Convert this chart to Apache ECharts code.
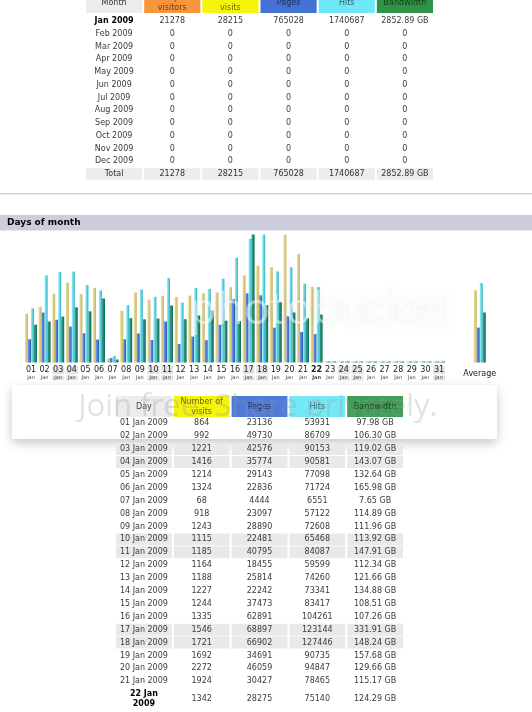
<!DOCTYPE html>
<html>
<head>
<meta charset="utf-8">
<title>Days of month</title>
<script src="https://cdn.jsdelivr.net/npm/echarts@6/dist/echarts.min.js"></script>
<style>
  html, body { margin: 0; padding: 0; background: #fff; }
  #main { width: 532px; height: 712px; }
</style>
</head>
<body>
<div id="main"></div>
<script>
// --- monthly history ---
var months = ['Jan 2009', 'Feb 2009', 'Mar 2009', 'Apr 2009', 'May 2009', 'Jun 2009',
              'Jul 2009', 'Aug 2009', 'Sep 2009', 'Oct 2009', 'Nov 2009', 'Dec 2009'];
var monthUnique    = [21278, 0, 0, 0, 0, 0, 0, 0, 0, 0, 0, 0];
var monthVisits    = [28215, 0, 0, 0, 0, 0, 0, 0, 0, 0, 0, 0];
var monthPages     = [765028, 0, 0, 0, 0, 0, 0, 0, 0, 0, 0, 0];
var monthHits      = [1740687, 0, 0, 0, 0, 0, 0, 0, 0, 0, 0, 0];
var monthBandwidth = [2852.89, 0, 0, 0, 0, 0, 0, 0, 0, 0, 0, 0];
var monthTotals    = [21278, 28215, 765028, 1740687, 2852.89];

// --- days of month ---
var dayNumbers = ['01','02','03','04','05','06','07','08','09','10','11','12','13','14','15','16',
                  '17','18','19','20','21','22','23','24','25','26','27','28','29','30','31'];
var dayVisits = [864, 992, 1221, 1416, 1214, 1324, 68, 918, 1243, 1115, 1185, 1164, 1188, 1227, 1244, 1335,
                 1546, 1721, 1692, 2272, 1924, 1342, 0, 0, 0, 0, 0, 0, 0, 0, 0];
var dayPages = [23136, 49730, 42576, 35774, 29143, 22836, 4444, 23097, 28890, 22481, 40795, 18455, 25814, 22242, 37473, 62891,
                68897, 66902, 34691, 46059, 30427, 28275, 0, 0, 0, 0, 0, 0, 0, 0, 0];
var dayHits = [53931, 86709, 90153, 90581, 77098, 71724, 6551, 57122, 72608, 65468, 84087, 59599, 74260, 73341, 83417, 104261,
               123144, 127446, 90735, 94847, 78465, 75140, 0, 0, 0, 0, 0, 0, 0, 0, 0];
var dayBandwidth = [97.98, 106.30, 119.02, 143.07, 132.64, 165.98, 7.65, 114.89, 111.96, 113.92, 147.91, 112.34, 121.66, 134.88, 108.51, 107.26,
                    331.91, 148.24, 157.68, 129.66, 115.17, 124.29, 0, 0, 0, 0, 0, 0, 0, 0, 0];
// visits, pages, hits, bandwidth
var averages = [1282.5, 34774, 79122, 129.68];
var weekendDays = ['03', '04', '10', '11', '17', '18', '24', '25', '31'];
var today = '22';
var daysShown = 22;

var FONT = 'DejaVu Sans';

function gb(v) { return v ? v.toFixed(2) + ' GB' : '0'; }

// ---- table cells ----
var topHead = ['Month', 'Unique\nvisitors', 'Number of\nvisits', 'Pages', 'Hits', 'Bandwidth'];
var topHeadFill = ['#ececec', '#f7963c', '#f4f40c', '#4272d6', '#6ee8f6', '#2f9446'];
var topHeadCells = topHead.map(function (t, i) {
  return { col: i, row: 0, text: t, fill: topHeadFill[i], color: i ? 'rgba(0,0,0,0.6)' : '#333' };
});
var topRows = months.concat(['Total']);
var topCells = [];
months.forEach(function (m, r) {
  var vals = [m, monthUnique[r], monthVisits[r], monthPages[r], monthHits[r], gb(monthBandwidth[r])];
  vals.forEach(function (v, c) {
    topCells.push({ col: c, row: r, text: String(v), bold: r === 0 && c === 0, color: r === 0 && c === 0 ? '#000' : '#3a3a3a' });
  });
});
['Total', monthTotals[0], monthTotals[1], monthTotals[2], monthTotals[3], gb(monthTotals[4])].forEach(function (v, c) {
  topCells.push({ col: c, row: months.length, text: String(v), fill: '#ececec' });
});

var botHead = ['Day', 'Number of\nvisits', 'Pages', 'Hits', 'Bandwidth'];
var botHeadFill = ['#ececec', '#f4f40c', '#4f7bd8', '#74e9f6', '#3f9e56'];
var botHeadCells = botHead.map(function (t, i) {
  return { col: i, row: 0, text: t, fill: botHeadFill[i], color: i ? 'rgba(0,0,0,0.6)' : '#444' };
});
var botRows = dayNumbers.slice(0, daysShown);
var botCells = [];
botRows.forEach(function (d, r) {
  var isToday = d === today;
  var fill = weekendDays.indexOf(d) >= 0 ? '#e9e9e9' : null;
  var vals = [isToday ? d + ' Jan\n2009' : d + ' Jan 2009', dayVisits[r], dayPages[r], dayHits[r], gb(dayBandwidth[r])];
  vals.forEach(function (v, c) {
    botCells.push({ col: c, row: r, text: String(v), fill: fill, bold: isToday && c === 0,
                    color: isToday && c === 0 ? '#000' : '#3a3a3a', dy: isToday ? 0.4 : 0 });
  });
});

function cellRender(cells, padY, fontSize) {
  return function (params, api) {
    var cell = cells[params.dataIndex];
    var p = api.coord([api.value(0), api.value(1)]);
    var s = api.size([1, 1]);
    var ch = [];
    if (cell.fill) {
      ch.push({ type: 'rect', shape: { x: p[0] - s[0] / 2 + 1, y: p[1] - s[1] / 2 + padY, width: s[0] - 2, height: s[1] - 2 * padY },
                style: { fill: cell.fill } });
    }
    ch.push({ type: 'text', style: { x: p[0], y: p[1] + (cell.dy || 0) * s[1], text: cell.text, align: 'center', verticalAlign: 'middle',
              fontFamily: FONT, fontSize: fontSize, lineHeight: 10, fontWeight: cell.bold ? 'bold' : 'normal', fill: cell.color || '#333' } });
    return { type: 'group', children: ch };
  };
}

function tableSeries(cells, gi, padY, fontSize) {
  return { type: 'custom', xAxisIndex: gi.x, yAxisIndex: gi.y, silent: true,
           data: cells.map(function (c) { return [c.col, c.row]; }),
           renderItem: cellRender(cells, padY, fontSize) };
}

// ---- chart ----
var chartCats = dayNumbers.concat([' ', '  ', 'Average']);
function withAvg(arr, avg) { return arr.concat(['-', '-', avg]); }
function grad(a, b) {
  return { type: 'linear', x: 0, y: 0, x2: 1, y2: 0, colorStops: [{ offset: 0, color: a }, { offset: 1, color: b }] };
}
function barSeries(name, data, yi, c) {
  return { type: 'bar', name: name, xAxisIndex: 2, yAxisIndex: yi, data: data, barWidth: 3, barGap: '0%',
           barMinHeight: 1, silent: true, itemStyle: { color: c } };
}

var richBase = function (bold, bg) {
  return [
    { fontSize: 8, lineHeight: 9, width: 12, align: 'center', fontWeight: bold ? 'bold' : 'normal', color: '#222', backgroundColor: bg },
    { fontSize: 5, lineHeight: 7, width: 12, align: 'center', fontWeight: bold ? 'bold' : 'normal', color: '#444', backgroundColor: bg }
  ];
};
var rn = richBase(false, 'transparent'), rw = richBase(false, '#e4e4e4'), rb = richBase(true, 'transparent');

var hidden = { show: false };
var option = {
  animation: false,
  backgroundColor: '#fff',
  grid: [
    { left: 85, width: 349, top: -8, height: 21, outerBoundsMode: 'none' },
    { left: 85, width: 349, top: 14.6, height: 165.75, outerBoundsMode: 'none' },
    { left: 24.2, width: 462.4, top: 234.5, height: 128, outerBoundsMode: 'none' },
    { left: 115, width: 289, top: 396, height: 21, outerBoundsMode: 'none' },
    { left: 115, width: 289, top: 416.85, height: 283.8, outerBoundsMode: 'none' }
  ],
  xAxis: [
    { type: 'category', gridIndex: 0, data: topHead, show: false },
    { type: 'category', gridIndex: 1, data: topHead, show: false },
    { type: 'category', gridIndex: 2, data: chartCats,
      axisLine: hidden, axisTick: hidden, splitLine: hidden,
      axisLabel: {
        interval: 0, margin: 3, fontFamily: FONT, hideOverlap: false,
        formatter: function (v) {
          if (v === 'Average') return '{avg|Average}';
          if (dayNumbers.indexOf(v) < 0) return '';
          var k = v === today ? 'b' : (weekendDays.indexOf(v) >= 0 ? 'w' : 'n');
          return '{d' + k + '|' + v + '}\n{j' + k + '|Jan}';
        },
        rich: {
          dn: rn[0], jn: rn[1], dw: rw[0], jw: rw[1], db: rb[0], jb: rb[1],
          avg: { fontSize: 8, lineHeight: 16, color: '#222' }
        }
      } },
    { type: 'category', gridIndex: 3, data: botHead, show: false },
    { type: 'category', gridIndex: 4, data: botHead, show: false }
  ],
  yAxis: [
    { type: 'category', gridIndex: 0, data: ['head'], inverse: true, show: false },
    { type: 'category', gridIndex: 1, data: topRows, inverse: true, show: false },
    { type: 'value', gridIndex: 2, min: 0, max: Math.max.apply(null, dayVisits), show: false },
    { type: 'value', gridIndex: 2, min: 0, max: Math.max.apply(null, dayHits.concat(dayPages)), show: false },
    { type: 'value', gridIndex: 2, min: 0, max: Math.max.apply(null, dayBandwidth), show: false },
    { type: 'category', gridIndex: 3, data: ['head'], inverse: true, show: false },
    { type: 'category', gridIndex: 4, data: botRows, inverse: true, show: false }
  ],
  graphic: [
    { type: 'rect', z: 0, shape: { x: 0, y: 193, width: 532, height: 1.5 }, style: { fill: '#cfcfcf' } },
    { type: 'rect', z: 0, shape: { x: 0, y: 215, width: 532, height: 15.5 }, style: { fill: '#cdcddd' } },
    { type: 'text', z: 1, style: { x: 7, y: 223, text: 'Days of month', verticalAlign: 'middle',
      fontFamily: FONT, fontSize: 9, fontWeight: 'bold', fill: '#000' } },
    // photobucket overlay
    { type: 'rect', z: 0, shape: { x: 12, y: 385, width: 485, height: 54 },
      style: { fill: '#fff', shadowBlur: 10, shadowColor: 'rgba(0,0,0,0.22)', shadowOffsetY: 4 } },
    { type: 'text', z: 100, silent: true, style: { x: 320, y: 311, text: 'photobucket', align: 'center', verticalAlign: 'middle',
      fontFamily: 'Open Sans', fontSize: 44, fill: 'rgba(255,255,255,0.5)',
      textShadowColor: 'rgba(0,0,0,0.12)', textShadowBlur: 6 } },
    { type: 'text', z: 100, silent: true, style: { x: 258, y: 407, text: 'Join free. Share privately.', align: 'center', verticalAlign: 'middle',
      fontFamily: 'Open Sans', fontSize: 31, fill: 'rgba(150,150,150,0.28)' } }
  ],
  series: [
    tableSeries(topHeadCells, { x: 0, y: 0 }, 0, 8),
    tableSeries(topCells, { x: 1, y: 1 }, 0.6, 8),
    barSeries('Number of visits', withAvg(dayVisits, averages[0]), 2, grad('#ece1a2', '#c9b364')),
    barSeries('Pages', withAvg(dayPages, averages[1]), 3, grad('#6f9be8', '#2a58b4')),
    barSeries('Hits', withAvg(dayHits, averages[2]), 3, grad('#9ff0f8', '#2eb2c6')),
    barSeries('Bandwidth', withAvg(dayBandwidth, averages[3]), 4, grad('#3aa58e', '#0c6a58')),
    tableSeries(botHeadCells, { x: 3, y: 5 }, 0, 8),
    tableSeries(botCells, { x: 4, y: 6 }, 0.45, 8)
  ]
};

var chart = echarts.init(document.getElementById('main'));
chart.setOption(option);
</script>
</body>
</html>
